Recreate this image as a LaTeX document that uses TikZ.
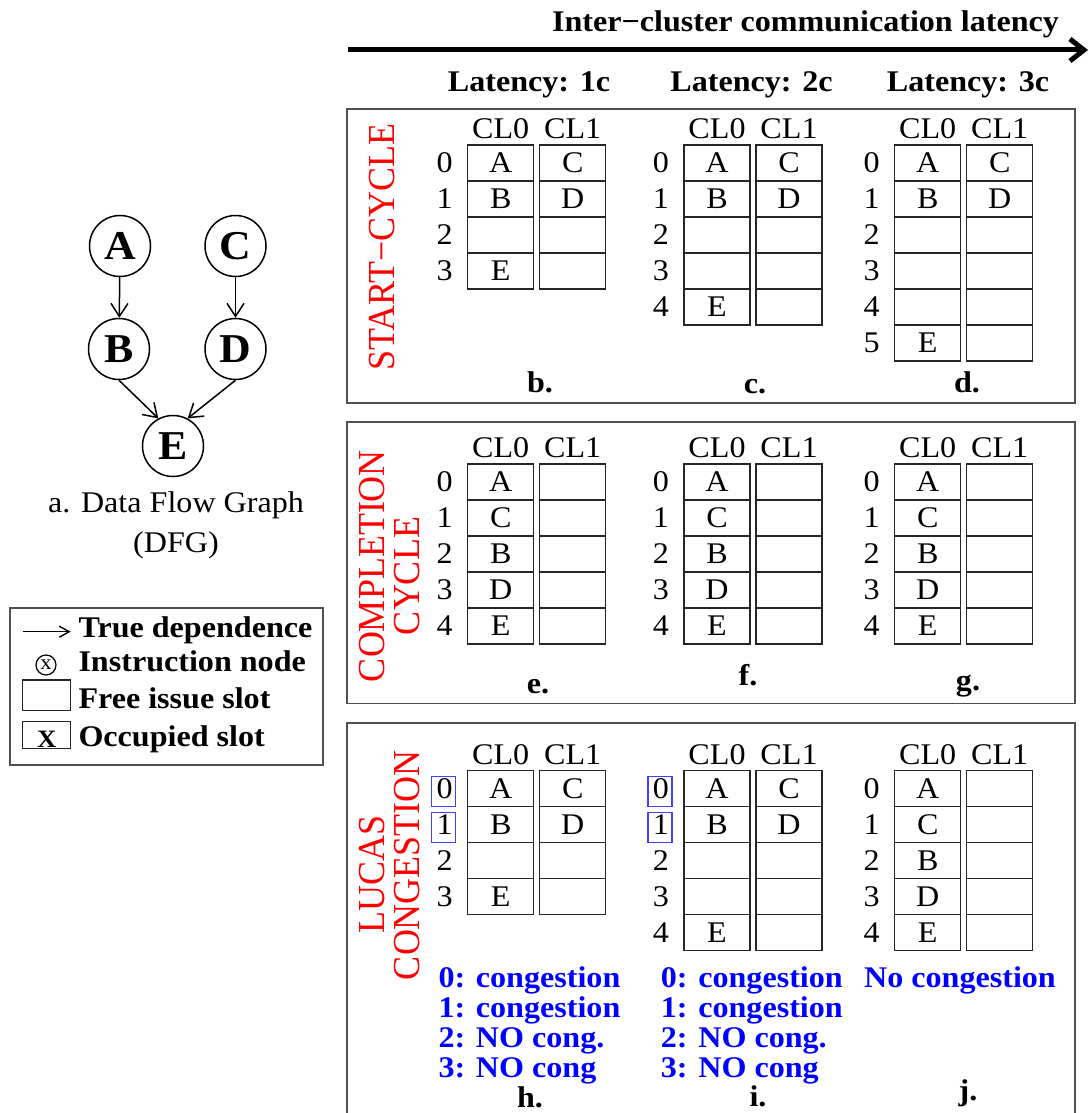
\documentclass[tikz,border=0pt]{standalone}
\usepackage{fontspec}
\setmainfont{Liberation Serif}[FakeStretch=1.07]
\newfontfamily\redfam{Liberation Serif}
\usetikzlibrary{arrows.meta}
\definecolor{redtx}{RGB}{255,0,0}
\definecolor{bluetx}{RGB}{0,0,255}
\definecolor{framec}{RGB}{80,80,80}
\newcommand\nrm{\fontsize{30}{34}\selectfont}
\newcommand\bld{\fontsize{30}{34}\selectfont\bfseries}
\newcommand\ec{}
\tikzset{
 cell/.style={draw=black!85, line width=1.3pt, minimum width=66pt, minimum height=36pt, inner sep=0pt, font=\nrm},
 hdr/.style={inner sep=0pt, font=\nrm},
 rownum/.style={inner sep=0pt, font=\nrm},
 panel/.style={draw=framec, line width=1.8pt},
 capt/.style={inner sep=0pt, font=\bld, anchor=base},
 redlbl/.style={inner sep=0pt, text=redtx, font=\redfam\fontsize{36}{36}\selectfont, rotate=90},
 bluelbl/.style={inner sep=0pt, text=bluetx, font=\bld, anchor=base west},
 qbox/.style={draw=blue!75, line width=1.2pt, minimum width=24pt, minimum height=30pt, inner sep=0pt},
 dfg/.style={circle, draw, line width=1.5pt, minimum size=61pt, inner sep=0pt, font=\fontsize{41}{41}\selectfont\bfseries},
 dep/.style={-{Straight Barb[length=13pt,width=17pt]}, line width=1.5pt},
 legtxt/.style={inner sep=0pt, font=\bld, anchor=base west},
}
% #1 prefix, #2 xleft, #3 ytop, #4 CL0 entries, #5 CL1 entries
\newcommand\schedtab[5]{%
  \node[hdr] (#1-h0) at (#2+33,#3-16) {CL0};
  \node[hdr] (#1-h1) at (#2+105,#3-16) {CL1};
  \foreach \t [count=\i from 0] in {#4} {
    \node[cell] (#1-a\i) at (#2+33,#3+18+36*\i) {\t};
    \node[rownum] (#1-r\i) at (#2-23,#3+18+36*\i) {\i};
  }
  \foreach \t [count=\i from 0] in {#5} {
    \node[cell] (#1-b\i) at (#2+105,#3+18+36*\i) {\t};
  }
}
\begin{document}
\begin{tikzpicture}[x=1pt,y=-1pt]
\useasboundingbox (0,0) rectangle (1088,1113);

% top axis
\node[inner sep=0pt, font=\bld, anchor=base] (title) at (805.5,32) {Inter−cluster communication latency};
\coordinate (ax0) at (348,50);
\coordinate (ax1) at (1088,50);
\draw[line width=5pt, -{Straight Barb[length=14pt,width=22pt]}] (ax0) -- (ax1);
\node[capt] (lat1) at (529,92) {Latency: 1c};
\node[capt] (lat2) at (751.5,92) {Latency: 2c};
\node[capt] (lat3) at (968,92) {Latency: 3c};

% panels
\draw[panel] (347,109) rectangle (1075,403);
\draw[panel] (347,422) rectangle (1075,703.5);
\draw[panel] (347,722.7) rectangle (1075,1130);

% panel 1
\node[redlbl] (rstart) at (382.5,247) {\scalebox{1}[1.06]{START−CYCLE}};
\schedtab{b}{467.7}{145}{A,B,\ec,E}{C,D,\ec,\ec}
\schedtab{c}{684}{145}{A,B,\ec,\ec,E}{C,D,\ec,\ec,\ec}
\schedtab{d}{894.7}{145}{A,B,\ec,\ec,\ec,E}{C,D,\ec,\ec,\ec,\ec}
\node[capt] (lb) at (540,392) {b.};
\node[capt] (lc) at (755,393.5) {c.};
\node[capt] (ld) at (967,392.5) {d.};

% panel 2
\node[redlbl] (rcomp1) at (372,566) {\scalebox{1}[1.06]{COMPLETION}};
\node[redlbl] (rcomp2) at (407,576) {\scalebox{1}[1.06]{CYCLE}};
\schedtab{e}{467.7}{464}{A,C,B,D,E}{\ec,\ec,\ec,\ec,\ec}
\schedtab{f}{684}{464}{A,C,B,D,E}{\ec,\ec,\ec,\ec,\ec}
\schedtab{g}{894.7}{464}{A,C,B,D,E}{\ec,\ec,\ec,\ec,\ec}
\node[capt] (le) at (538,693) {e.};
\node[capt] (lf) at (748,685) {f.};
\node[capt] (lg) at (968,690) {g.};

% panel 3
\node[redlbl] (rluc1) at (372,874) {\scalebox{1}[1.06]{LUCAS}};
\node[redlbl] (rluc2) at (407,865) {\scalebox{1}[1.06]{CONGESTION}};
\schedtab{h}{467.7}{770.7}{A,B,\ec,E}{C,D,\ec,\ec}
\schedtab{i}{684}{770.7}{A,B,\ec,\ec,E}{C,D,\ec,\ec,\ec}
\schedtab{j}{894.7}{770.7}{A,C,B,D,E}{\ec,\ec,\ec,\ec,\ec}
\node[qbox] (hq0) at (443.7,791.7) {};
\node[qbox] (hq1) at (443.7,827.7) {};
\node[qbox] (iq0) at (660,791.7) {};
\node[qbox] (iq1) at (660,827.7) {};
\node[bluelbl] (ht0) at (438.3,987) {0: congestion};
\node[bluelbl] (ht1) at (438.3,1017) {1: congestion};
\node[bluelbl] (ht2) at (438.3,1047) {2: NO cong.};
\node[bluelbl] (ht3) at (438.3,1077) {3: NO cong};
\node[bluelbl] (it0) at (660.7,987) {0: congestion};
\node[bluelbl] (it1) at (660.7,1017) {1: congestion};
\node[bluelbl] (it2) at (660.7,1047) {2: NO cong.};
\node[bluelbl] (it3) at (660.7,1077) {3: NO cong};
\node[bluelbl, anchor=base] (jt0) at (960,987) {No congestion};
\node[capt] (lh) at (530,1107.5) {h.};
\node[capt] (li) at (758,1106.5) {i.};
\node[capt] (lj) at (968,1100) {j.};

% DFG
\node[dfg] (A) at (120,246) {A};
\node[dfg] (C) at (235.5,246) {C};
\node[dfg] (B) at (119,349) {B};
\node[dfg] (D) at (235.5,349) {D};
\node[dfg] (E) at (173,446) {E};
\draw[dep] (A) -- (B);
\draw[dep] (C) -- (D);
\draw[dep] (B.south) -- (E.118);
\draw[dep] (D.south) -- (E.62);
\node[inner sep=0pt, font=\nrm, anchor=base] (capa) at (176,512) {a. Data Flow Graph};
\node[inner sep=0pt, font=\nrm, anchor=base] (capb) at (176,552) {(DFG)};

% legend
\draw[draw=framec, line width=1.5pt] (10,608) rectangle (323,765);
\coordinate (la0) at (22.7,631.7);
\coordinate (la1) at (70.7,631.7);
\draw[line width=1.4pt, -{Straight Barb[length=10pt,width=11pt]}] (la0) -- (la1);
\node[circle, draw, line width=1.2pt, minimum size=20pt, inner sep=0pt, font=\fontsize{21}{21}\selectfont] (lx) at (46,665) {\raisebox{1pt}{x}};
\node[draw=black!85, line width=1.3pt, minimum width=48pt, minimum height=30.7pt, inner sep=0pt] (lfree) at (46.7,695.3) {};
\node[draw=black!85, line width=1.3pt, minimum width=48pt, minimum height=26.7pt, inner sep=0pt] (locc) at (46.7,735) {};
\node[inner sep=0pt, anchor=base, font=\fontsize{25}{25}\selectfont\bfseries] (locx) at (46.7,747.5) {X};
\node[legtxt] (lt1) at (78.3,637.7) {True dependence};
\node[legtxt] (lt2) at (78.3,671.7) {Instruction node};
\node[legtxt] (lt3) at (78.3,708) {Free issue slot};
\node[legtxt] (lt4) at (78.3,746.7) {Occupied slot};
\end{tikzpicture}
\end{document}
